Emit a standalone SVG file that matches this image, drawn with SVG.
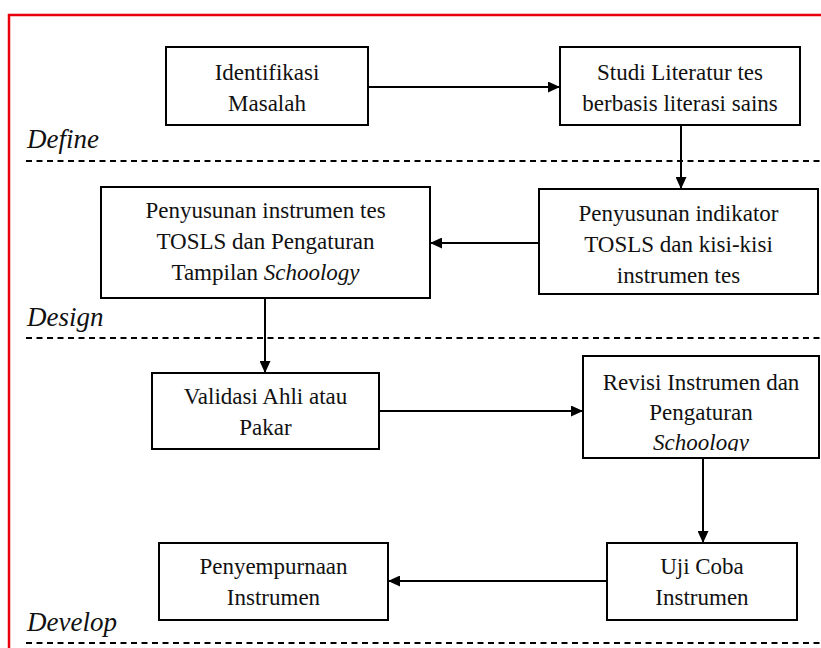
<svg xmlns="http://www.w3.org/2000/svg" width="821" height="648" viewBox="0 0 821 648">
<style>
.box{fill:#fff;stroke:#000;stroke-width:2}
.t{font-size:23px;fill:#111;text-anchor:middle}
.i{font-style:italic}
.ph{font-size:27px;font-style:italic;fill:#111}
.dash{stroke:#000;stroke-width:2;stroke-dasharray:6 4.5;fill:none}
.con{stroke:#000;stroke-width:2;fill:none;marker-end:url(#ah)}
</style>
<defs>
<marker id="ah" markerUnits="userSpaceOnUse" markerWidth="12" markerHeight="11" refX="12" refY="5.5" orient="auto">
<path d="M0,0 L12,5.5 L0,11 z" fill="#000"/>
</marker>
<clipPath id="clipRev"><rect x="583" y="356" width="236" height="95"/></clipPath>
</defs>
<rect width="821" height="648" fill="#fff"/>
<path d="M9,650 V15 H822" fill="none" stroke="#e8000b" stroke-width="2.5"/>

<g font-family="'Liberation Serif', 'Times New Roman', 'DejaVu Serif', serif">
<g id="phases">
<text class="ph" x="27" y="148">Define</text>
<line class="dash" x1="26" y1="161" x2="821" y2="161"/>
<text class="ph" x="27" y="326">Design</text>
<line class="dash" x1="26" y1="338" x2="821" y2="338"/>
<text class="ph" x="27" y="631">Develop</text>
<line class="dash" x1="26" y1="643" x2="821" y2="643"/>
</g>

<g id="connectors">
<path class="con" d="M368,87 H560"/>
<path class="con" d="M681,125 V189"/>
<path class="con" d="M539,243 H430"/>
<path class="con" d="M265,298 V373"/>
<path class="con" d="M379,411 H583"/>
<path class="con" d="M703,458 V543"/>
<path class="con" d="M607,581 H388"/>
</g>

<g id="n1">
<rect class="box" x="166" y="47" width="202" height="78"/>
<text class="t" x="267" y="80">Identifikasi</text>
<text class="t" x="267" y="111">Masalah</text>
</g>
<g id="n2">
<rect class="box" x="560" y="47" width="240" height="78"/>
<text class="t" x="680" y="80">Studi Literatur tes</text>
<text class="t" x="680" y="111">berbasis literasi sains</text>
</g>
<g id="n3">
<rect class="box" x="101" y="187" width="329" height="111"/>
<text class="t" x="265.5" y="218">Penyusunan instrumen tes</text>
<text class="t" x="265.5" y="249">TOSLS dan Pengaturan</text>
<text class="t" x="265.5" y="280">Tampilan <tspan class="i">Schoology</tspan></text>
</g>
<g id="n4">
<rect class="box" x="539" y="189" width="279" height="105"/>
<text class="t" x="678.5" y="221">Penyusunan indikator</text>
<text class="t" x="678.5" y="252">TOSLS dan kisi-kisi</text>
<text class="t" x="678.5" y="283">instrumen tes</text>
</g>
<g id="n5">
<rect class="box" x="152" y="373" width="227" height="76"/>
<text class="t" x="265.5" y="404">Validasi Ahli atau</text>
<text class="t" x="265.5" y="435">Pakar</text>
</g>
<g id="n6">
<rect class="box" x="583" y="356" width="236" height="102"/>
<text class="t" x="701" y="390">Revisi Instrumen dan</text>
<text class="t" x="701" y="420">Pengaturan</text>
<text class="t i" x="701" y="450" clip-path="url(#clipRev)">Schoology</text>
</g>
<g id="n7">
<rect class="box" x="159" y="543" width="229" height="77"/>
<text class="t" x="273.5" y="574">Penyempurnaan</text>
<text class="t" x="273.5" y="605">Instrumen</text>
</g>
<g id="n8">
<rect class="box" x="607" y="543" width="190" height="77"/>
<text class="t" x="702" y="574">Uji Coba</text>
<text class="t" x="702" y="605">Instrumen</text>
</g>
</g>
</svg>
